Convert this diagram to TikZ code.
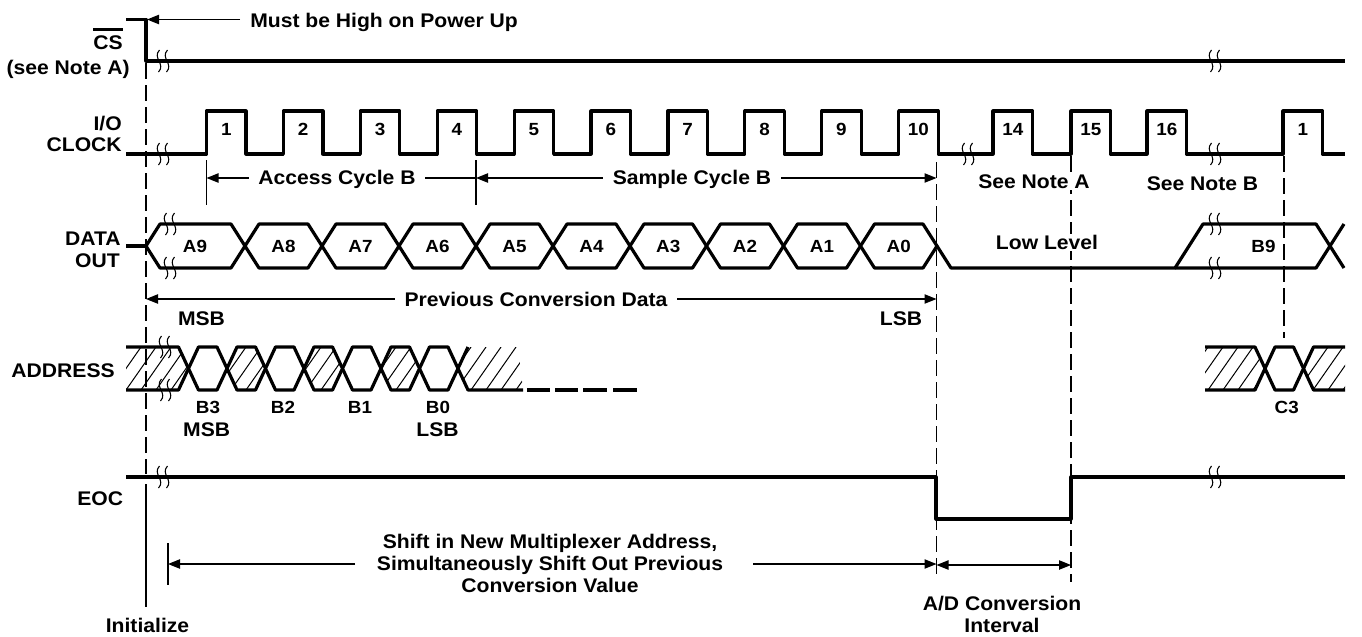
\documentclass[tikz,border=0pt]{standalone}
\usepackage{fontspec}
\setmainfont{Liberation Sans}[FakeStretch=1.07]
\usetikzlibrary{arrows.meta}
\begin{document}
\begin{tikzpicture}[x=0.75pt,y=-0.75pt,
  >={Triangle[length=9pt,width=7pt]},
  sig/.style={line width=2.4pt,line join=round},
  thinl/.style={line width=0.9pt},
  dashv/.style={line width=0.8pt,dash pattern=on 12pt off 4.5pt},
  hat/.style={line width=0.75pt},
  big/.style={font=\bfseries\fontsize{14.8}{17}\selectfont,inner sep=0pt},
  sm/.style={font=\bfseries\fontsize{13.2}{15}\selectfont,inner sep=0pt},
  wbg/.style={fill=white,inner xsep=7pt,inner ysep=1pt},
  brk/.pic={
    \draw[line width=0.8pt] (-3.5,-11) .. controls (-11,-3) and (3,3) .. (-4.5,11);
    \draw[line width=0.8pt] (4.5,-11) .. controls (-3,-3) and (11,3) .. (3.5,11);
  }
]
\useasboundingbox (0,0) rectangle (1362,636);

% guide lines
\draw[dashv] (146,63)--(146,474);
\draw[thinl] (146,484)--(146,607);
\draw[dashv] (936.5,162)--(936.5,580);
\draw[dashv] (1071,156)--(1071,582);
\draw[dashv] (1284,156)--(1284,338);
\draw[thinl] (206.5,160)--(206.5,205);
\draw[thinl] (476,160)--(476,205);
\draw[thinl] (168,543)--(168,585);

% CS
\draw[sig] (126,19.5)--(146,19.5)--(146,61)--(1345,61);
\pic at (163,61) {brk};
\pic at (1215,61) {brk};
\draw[thinl,->] (240,19.5)--(147,19.5);
\node[big,anchor=base west] (mbh) at (250,27) {Must be High on Power Up};
\node[big,anchor=base east] (cs) at (123,49.5) {CS};
\draw[line width=1.6pt] ([yshift=4.5pt]cs.north west)--([yshift=4.5pt]cs.north east);
\node[big,anchor=base east] (csn) at (130,74.5) {(see Note A)};

% I/O clock
\draw[sig] (126,154) \foreach \r in {206.5,283.4,360.3,437.2,514.1,591,667.9,744.8,821.7,898.6,993,1071,1147,1283} { -- (\r,154) -- (\r,111) -- (\r+39.5,111) -- (\r+39.5,154) } -- (1345,154);
\pic at (163,154) {brk};
\pic at (968,154) {brk};
\pic at (1215,154) {brk};
\foreach \r/\t [count=\i] in {206.5/1,283.4/2,360.3/3,437.2/4,514.1/5,591/6,667.9/7,744.8/8,821.7/9,898.6/10,993/14,1071/15,1147/16,1283/1}
  \node[sm,anchor=base] (ck\i) at (\r+19.75,135) {\t};
\node[big,anchor=base east] (io) at (122,130.5) {I/O};
\node[big,anchor=base east] (clk) at (122,151.5) {CLOCK};

\draw[thinl,<-] (206.5,178)--(476,178);
\node[big,wbg,anchor=base] (acc) at (337,184.5) {Access Cycle B};
\draw[thinl,<->] (476,178)--(936.5,178);
\node[big,wbg,anchor=base] (smp) at (692,184.5) {Sample Cycle B};
\node[big,wbg,anchor=base] (nta) at (1034,188.3) {See Note A};
\node[big,wbg,anchor=base] (ntb) at (1202.5,190.5) {See Note B};

% DATA OUT
\draw[sig] (126,246)--(146,246);
\foreach \a/\b in {146/245,245/322,322/399,399/476,476/553,553/630,630/706.5,706.5/783.5,783.5/860.5,860.5/937}
  \draw[sig] (\a,246)--(\a+14,224)--(\b-14,224)--(\b,246)--(\b-14,268)--(\a+14,268)--cycle;
\draw[sig] (937,246)--(951,268)--(1175,268)--(1203,224)--(1316,224)--(1344,268);
\draw[sig] (1175,268)--(1316,268)--(1344,224);
\pic at (170,224) {brk};
\pic at (170,268) {brk};
\pic at (1215,224) {brk};
\pic at (1215,268) {brk};
\node[big,anchor=base east] (dat) at (121,245) {DATA};
\node[big,anchor=base east] (out) at (120,267) {OUT};
\foreach \x/\t [count=\i] in {195/A9,283.5/A8,360.5/A7,437.5/A6,514.5/A5,591.5/A4,668.25/A3,745/A2,822/A1,898.75/A0}
  \node[sm,anchor=base] (d\i) at (\x,252.7) {\t};
\node[big,wbg,anchor=base] (low) at (1047,249.3) {Low Level};
\node[sm,anchor=base] (b9) at (1263.5,252.7) {B9};

\draw[thinl,<->] (146,299)--(936.5,299);
\node[big,wbg,anchor=base] (prev) at (536,306) {Previous Conversion Data};
\node[big,anchor=base] (msb1) at (201.5,325.7) {MSB};
\node[big,anchor=base] (lsb1) at (901,325.7) {LSB};

% ADDRESS
\begin{scope}
\clip (126,347)--(178.5,347)--(188.5,368.5)--(178.5,390)--(126,390)--cycle
 (227,368.5)--(237,347)--(255.5,347)--(265.5,368.5)--(255.5,390)--(237,390)--cycle
 (304,368.5)--(314,347)--(332.5,347)--(342.5,368.5)--(332.5,390)--(314,390)--cycle
 (381,368.5)--(391,347)--(409.5,347)--(419.5,368.5)--(409.5,390)--(391,390)--cycle
 (458,368.5)--(468,347)--(518,347)--(523,390)--(468,390)--cycle
 (1205,347)--(1255,347)--(1265,368.5)--(1255,390)--(1205,390)--cycle
 (1303.5,368.5)--(1313.5,347)--(1345,347)--(1345,390)--(1313.5,390)--cycle;
\foreach \u in {96,111,...,530} \draw[hat] (\u,390)--++(30,-43);
\foreach \u in {1178,1193,...,1350} \draw[hat] (\u,390)--++(30,-43);
\end{scope}
\draw[sig] (126,347)--(178.5,347)--(188.5,368.5)--(178.5,390)--(126,390);
\foreach \a/\b in {188.5/227,227/265.5,265.5/304,304/342.5,342.5/381,381/419.5,419.5/458}
  \draw[sig] (\a,368.5)--(\a+10,347)--(\b-10,347)--(\b,368.5)--(\b-10,390)--(\a+10,390)--cycle;
\draw[sig] (458,368.5)--(468,347);
\draw[sig] (458,368.5)--(468,390)--(523,390);
\foreach \a/\b in {527/550,555/578,583/607,613/637}
  \draw[line width=2.4pt] (\a,390)--(\b,390);
\draw[sig] (1205,347)--(1255,347)--(1265,368.5)--(1255,390)--(1205,390);
\draw[sig] (1265,368.5)--(1275,347)--(1293.5,347)--(1303.5,368.5)--(1293.5,390)--(1275,390)--cycle;
\draw[sig] (1345,347)--(1313.5,347)--(1303.5,368.5)--(1313.5,390)--(1345,390);
\pic at (165,347) {brk};
\pic at (165,390) {brk};
\node[big,anchor=base east] (adr) at (115,377.5) {ADDRESS};
\foreach \x/\t [count=\i] in {208/B3,283/B2,360/B1,438/B0}
  \node[sm,anchor=base] (ab\i) at (\x,413.3) {\t};
\node[sm,anchor=base] (c3) at (1286.7,413.3) {C3};
\node[big,anchor=base] (msb2) at (206.7,436.5) {MSB};
\node[big,anchor=base] (lsb2) at (437.5,436.5) {LSB};

% EOC
\draw[sig] (126,477)--(936,477)--(936,519)--(1071,519)--(1071,477)--(1345,477);
\pic at (163,477) {brk};
\pic at (1215,477) {brk};
\node[big,anchor=base east] (eoc) at (123.3,505) {EOC};

% bottom annotations
\draw[thinl,->] (355,564)--(168,564);
\draw[thinl,->] (753,564)--(936.5,564);
\node[big,anchor=base] (sh1) at (550,548.5) {Shift in New Multiplexer Address,};
\node[big,anchor=base] (sh2) at (550,570.5) {Simultaneously Shift Out Previous};
\node[big,anchor=base] (sh3) at (550,592.5) {Conversion Value};
\draw[thinl,<->] (936.5,565)--(1071,565);
\node[big,anchor=base] (ad1) at (1002,610) {A/D Conversion};
\node[big,anchor=base] (ad2) at (1002,632) {Interval};
\node[big,anchor=base] (ini) at (147.5,632.5) {Initialize};
\end{tikzpicture}
\end{document}
